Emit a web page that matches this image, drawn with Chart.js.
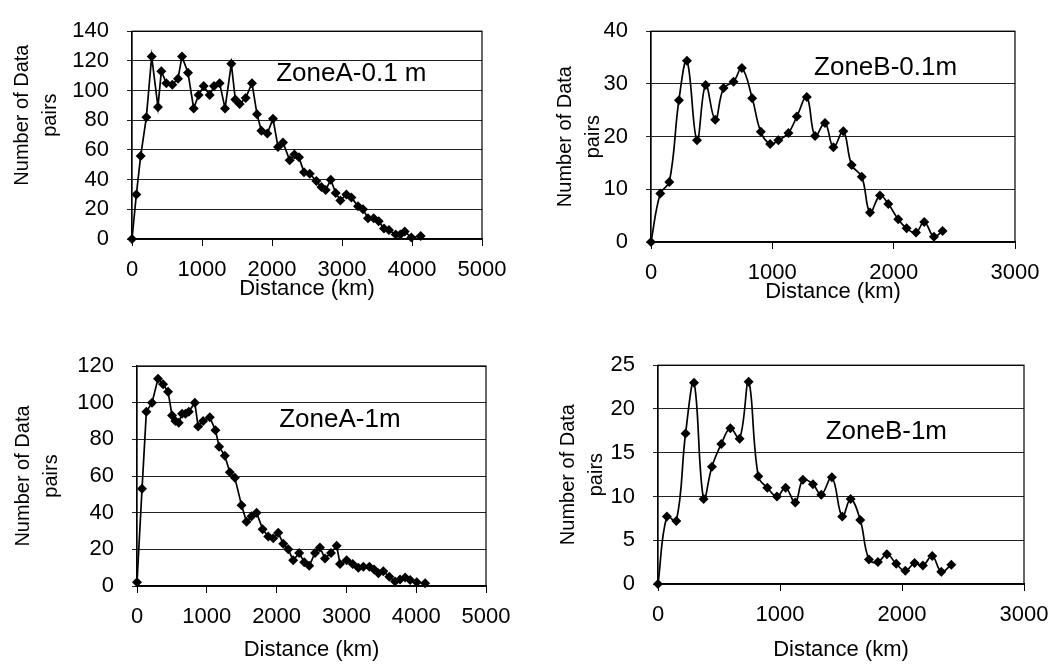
<!DOCTYPE html>
<html>
<head>
<meta charset="utf-8">
<script src="https://cdn.jsdelivr.net/npm/chart.js@4.4.1/dist/chart.umd.min.js"></script>
<style>
  html, body { margin: 0; padding: 0; background: #fff; }
  body { width: 1062px; height: 668px; position: relative; overflow: hidden; }
  .box { position: absolute; }
</style>
</head>
<body>
<div class="box" style="left:0;top:0;width:531px;height:306px"><canvas id="zoneA01"></canvas></div>
<div class="box" style="left:531px;top:0;width:531px;height:309px"><canvas id="zoneB01"></canvas></div>
<div class="box" style="left:0;top:334px;width:531px;height:333px"><canvas id="zoneA1"></canvas></div>
<div class="box" style="left:531px;top:334px;width:531px;height:333px"><canvas id="zoneB1"></canvas></div>
<script>
// distances (km) and number of data pairs
const distA01 = [0, 62, 124, 205, 281, 371, 419, 490, 576, 657, 714, 800, 881, 952, 1024, 1110, 1171, 1252, 1329, 1419, 1476, 1538, 1624, 1714, 1786, 1848, 1933, 2014, 2086, 2157, 2253, 2320, 2386, 2457, 2539, 2634, 2706, 2767, 2839, 2910, 2977, 3063, 3134, 3229, 3300, 3371, 3453, 3524, 3600, 3671, 3767, 3833, 3896, 3991, 4124];
const pairsA01 = [0, 30, 56, 82, 123, 89, 113, 105, 104, 108, 123, 112, 88, 97, 103, 97, 103, 105, 88, 118, 94, 91, 95, 105, 84, 73, 71, 81, 62, 65, 53, 57, 55, 45, 44, 39, 35, 33, 40, 31, 26, 30, 28, 22, 20, 14, 14, 12, 7, 6, 3, 3, 5, 1, 2];

const distB01 = [0, 77, 151, 230, 296, 379, 450, 529, 598, 680, 749, 834, 905, 982, 1050, 1133, 1202, 1284, 1352, 1434, 1503, 1585, 1654, 1737, 1805, 1887, 1956, 2038, 2107, 2184, 2252, 2332, 2403];
const pairsB01 = [0, 9.2, 11.4, 26.9, 34.4, 19.3, 29.8, 23.2, 29.2, 30.4, 33, 27.3, 20.9, 18.6, 19.3, 20.7, 23.8, 27.5, 20.1, 22.6, 18, 21, 14.6, 12.4, 5.6, 8.8, 7.2, 4.3, 2.6, 1.8, 3.8, 1.0, 2.1];

const distA1 = [0, 72, 134, 215, 301, 373, 445, 502, 550, 598, 646, 694, 742, 828, 876, 947, 1043, 1124, 1177, 1258, 1330, 1402, 1498, 1569, 1641, 1713, 1800, 1880, 1952, 2024, 2095, 2167, 2238, 2324, 2396, 2468, 2550, 2621, 2693, 2779, 2861, 2908, 3004, 3090, 3171, 3243, 3329, 3396, 3458, 3529, 3615, 3697, 3769, 3841, 3913, 4008, 4128];
const pairsA1 = [2, 53, 95, 100, 113, 110, 106, 93, 90, 89, 94, 94, 95, 100, 87, 90, 92, 85, 76, 71, 62, 59, 44, 35, 38, 40, 31, 27, 26, 29, 23, 20, 14, 18, 13, 11, 18, 21, 15, 18, 22, 12, 14, 12, 10, 10.5, 10.5, 9, 7, 8, 5, 2.5, 3.5, 4.7, 3.3, 2, 1.5];

const distB1 = [0, 73, 150, 226, 295, 374, 442, 519, 593, 669, 743, 822, 896, 975, 1046, 1125, 1188, 1270, 1338, 1425, 1510, 1579, 1658, 1729, 1803, 1876, 1953, 2027, 2103, 2171, 2248, 2322, 2404];
const pairsB1 = [0, 7.7, 7.2, 17.2, 23, 9.7, 13.4, 16, 17.8, 16.6, 23.1, 12.3, 11, 10, 11, 9.3, 11.9, 11.4, 10.2, 12.2, 7.7, 9.7, 7.3, 2.8, 2.5, 3.4, 2.3, 1.5, 2.4, 2.1, 3.2, 1.4, 2.2];

const yTitle = ['Number of Data', 'pairs'];
const xTitle = 'Distance (km)';

const FONT = 'Liberation Sans, Arial, Helvetica, sans-serif';

// plot frame, the rotated y title and the zone label inside the plot
const framePlugin = {
    id: 'frame',
    afterDraw(chart, args, opts) {
        const {ctx, chartArea, scales} = chart;
        ctx.save();
        ctx.strokeStyle = '#000';
        ctx.lineWidth = 1.2;
        ctx.strokeRect(chartArea.left, chartArea.top, chartArea.right - chartArea.left, chartArea.bottom - chartArea.top);
        ctx.fillStyle = '#000';

        // y title, two lines rotated
        ctx.save();
        const cy = (chartArea.top + chartArea.bottom) / 2 + opts.titleShift;
        ctx.translate(chartArea.left - opts.titleDx, cy);
        ctx.rotate(-Math.PI / 2);
        ctx.font = '20px ' + FONT;
        ctx.textAlign = 'center';
        ctx.textBaseline = 'middle';
        yTitle.forEach((line, i) => ctx.fillText(line, 0, i * 28));
        ctx.restore();

        ctx.font = opts.size + 'px ' + FONT;
        ctx.textAlign = 'left';
        ctx.textBaseline = 'middle';
        ctx.fillText(opts.text, scales.x.getPixelForValue(opts.at[0]), scales.y.getPixelForValue(opts.at[1]));
        ctx.restore();
    }
};

function makeChart(id, dist, pairs, cfg) {
    const points = dist.map((d, i) => ({x: d, y: pairs[i]}));
    const tickFont = {family: FONT, size: 22};
    return new Chart(document.getElementById(id), {
        type: 'scatter',
        data: {
            datasets: [{
                data: points,
                showLine: true,
                borderColor: '#000',
                borderWidth: 1.7,
                backgroundColor: '#000',
                pointStyle: 'rectRot',
                pointRadius: 5,
                pointBorderWidth: 0,
                tension: cfg.tension,
                clip: false
            }]
        },
        plugins: [framePlugin],
        options: {
            responsive: true,
            maintainAspectRatio: false,
            animation: false,
            layout: {padding: cfg.padding},
            plugins: {
                legend: {display: false},
                tooltip: {enabled: false},
                frame: {text: cfg.label, at: cfg.labelAt, size: 26, titleDx: cfg.titleDx, titleShift: cfg.titleShift}
            },
            scales: {
                x: {
                    type: 'linear',
                    min: 0,
                    max: cfg.xMax,
                    ticks: {stepSize: 1000, font: tickFont, color: '#000', padding: 11, maxRotation: 0,
                        callback: v => String(v)},
                    grid: {drawOnChartArea: false, tickLength: 7, color: '#000'},
                    border: {color: '#000', width: 1.2},
                    title: {display: true, text: xTitle, font: tickFont, color: '#000'},
                    afterFit(s) { s.height = cfg.xHeight; }
                },
                y: {
                    min: 0,
                    max: cfg.yMax,
                    ticks: {stepSize: cfg.yStep, font: tickFont, color: '#000', padding: 18},
                    grid: {color: '#222', lineWidth: 1, tickLength: 5},
                    border: {color: '#000', width: 1.2},
                    afterFit(s) { s.width = cfg.yWidth; }
                }
            }
        }
    });
}

makeChart('zoneA01', distA01, pairsA01, {
    xMax: 5000, yMax: 140, yStep: 20, tension: 0,
    padding: {top: 17, left: 13, right: 49, bottom: 0},
    yWidth: 119, xHeight: 67, titleDx: 110, titleShift: -20,
    label: 'ZoneA-0.1 m', labelAt: [2060, 111]
});

makeChart('zoneB01', distB01, pairsB01, {
    xMax: 3000, yMax: 40, yStep: 10, tension: 0.4,
    padding: {top: 17, left: 26, right: 47, bottom: 0},
    yWidth: 94, xHeight: 67, titleDx: 86, titleShift: 0,
    label: 'ZoneB-0.1m', labelAt: [1344, 33.1]
});

makeChart('zoneA1', distA1, pairsA1, {
    xMax: 5000, yMax: 120, yStep: 20, tension: 0,
    padding: {top: 32, left: 13, right: 45, bottom: 0},
    yWidth: 124, xHeight: 81, titleDx: 114, titleShift: 0,
    label: 'ZoneA-1m', labelAt: [2037, 90.8]
});

makeChart('zoneB1', distB1, pairsB1, {
    xMax: 3000, yMax: 25, yStep: 5, tension: 0.4,
    padding: {top: 30, left: 31, right: 38, bottom: 0},
    yWidth: 96, xHeight: 83, titleDx: 90, titleShift: 0,
    label: 'ZoneB-1m', labelAt: [1374, 17.4]
});
</script>
</body>
</html>
